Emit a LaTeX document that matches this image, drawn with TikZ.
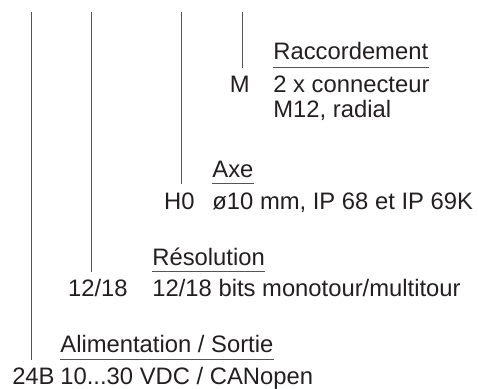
\documentclass[tikz,border=0pt]{standalone}
\usepackage{fontspec}
\setmainfont{Liberation Sans}
\usepackage{xcolor}
\usepackage{tikz}
\definecolor{ink}{HTML}{231F20}
\definecolor{wire}{HTML}{555555}
\begin{document}
\begin{tikzpicture}[x=0.5pt, y=-0.5pt,
    txt/.style={inner sep=0pt, text=ink, font=\fontsize{11.9}{14}\selectfont},
    code/.style={txt, anchor=base east},
    val/.style={txt, anchor=base west},
    rule/.style={draw=wire, line width=0.5pt}]
      \useasboundingbox (0, 0) rectangle (478, 389);
      % tops and feet of the four lines
      \coordinate (ractop) at (242, 12);
      \coordinate (racfoot) at (242, 68);
      \coordinate (axetop) at (181, 12);
      \coordinate (axefoot) at (181, 184);
      \coordinate (restop) at (91, 12);
      \coordinate (resfoot) at (91, 272);
      \coordinate (alitop) at (31, 12);
      \coordinate (alifoot) at (31, 360);
      % Raccordement
      \node[val] (rac) at (273, 60) {Raccordement};
      \node[code] (racm) at (250, 93) {M};
      \node[val] (racv1) at (273, 93) {2 x connecteur};
      \node[val] (racv2) at (273, 118) {M12, radial};
      % Axe
      \node[val] (axe) at (212, 178) {Axe};
      \node[code] (axeh) at (195, 210) {H0};
      \node[val] (axev) at (212, 210) {ø10 mm, IP 68 et IP 69K};
      % Resolution
      \node[val] (res) at (152, 266) {Résolution};
      \node[code] (resc) at (128, 297) {12/18};
      \node[val] (resv) at (152, 297) {12/18 bits monotour/multitour};
      % Alimentation
      \node[val] (ali) at (60, 353) {Alimentation / Sortie};
      \node[code] (alic) at (55, 385) {24B};
      \node[val] (aliv) at (60, 385) {10...30 VDC / CANopen};
      % lines and underlines
      \draw[rule] (ractop) -- (racfoot);
      \draw[rule] (axetop) -- (axefoot);
      \draw[rule] (restop) -- (resfoot);
      \draw[rule] (alitop) -- (alifoot);
      \draw[rule] (racfoot -| rac.west) -- (racfoot -| rac.east);
      \draw[rule] (axefoot -| axe.west) -- (axefoot -| axe.east);
      \draw[rule] (resfoot -| res.west) -- (resfoot -| res.east);
      \draw[rule] (alifoot -| ali.west) -- (alifoot -| ali.east);
    \end{tikzpicture}
\end{document}
